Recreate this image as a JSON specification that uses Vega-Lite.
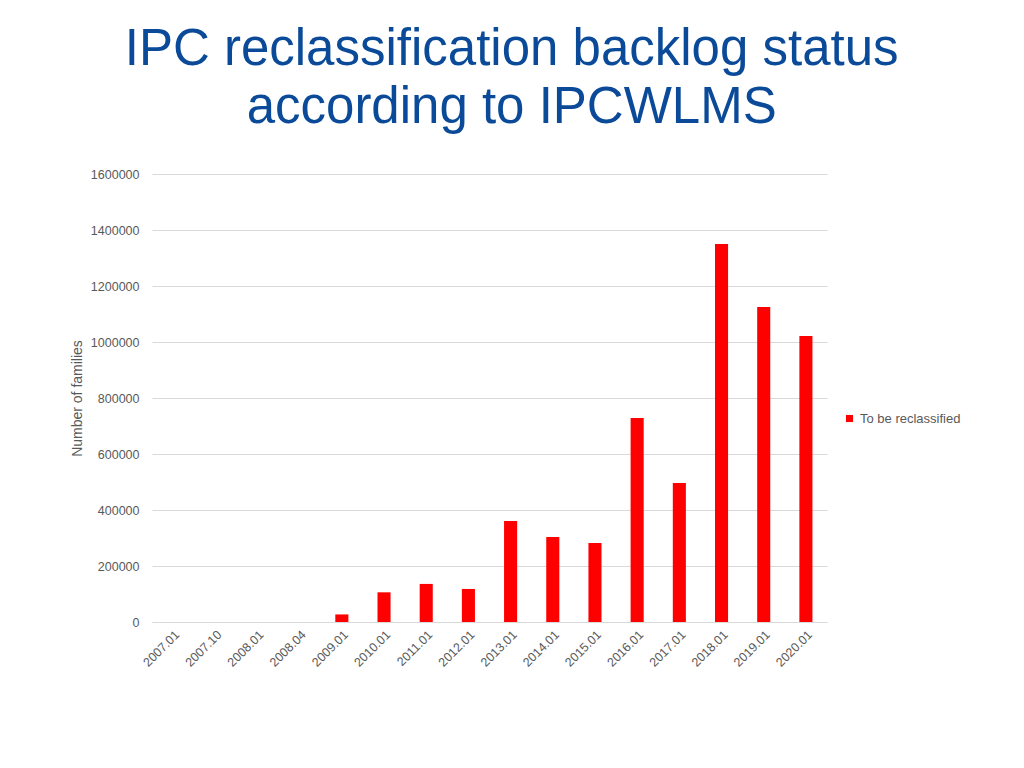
{
  "$schema": "https://vega.github.io/schema/vega-lite/v6.json",
  "width": 675,
  "height": 448,
  "padding": {"left": 70, "top": 24, "right": 10, "bottom": 10},
  "background": "white",
  "title": {
    "text": ["IPC reclassification backlog status", "according to IPCWLMS"],
    "font": "Liberation Sans",
    "fontSize": 51,
    "fontWeight": "normal",
    "color": "#0a4a98",
    "lineHeight": 58,
    "anchor": "middle",
    "frame": "bounds",
    "offset": 34,
    "dx": -4
  },
  "data": {
    "values": [
      {"period": "2007.01", "series": "To be reclassified", "families": 0},
      {"period": "2007.10", "series": "To be reclassified", "families": 0},
      {"period": "2008.01", "series": "To be reclassified", "families": 0},
      {"period": "2008.04", "series": "To be reclassified", "families": 0},
      {"period": "2009.01", "series": "To be reclassified", "families": 27000},
      {"period": "2010.01", "series": "To be reclassified", "families": 106000},
      {"period": "2011.01", "series": "To be reclassified", "families": 136000},
      {"period": "2012.01", "series": "To be reclassified", "families": 118000},
      {"period": "2013.01", "series": "To be reclassified", "families": 361000},
      {"period": "2014.01", "series": "To be reclassified", "families": 304000},
      {"period": "2015.01", "series": "To be reclassified", "families": 282000},
      {"period": "2016.01", "series": "To be reclassified", "families": 729000},
      {"period": "2017.01", "series": "To be reclassified", "families": 496000},
      {"period": "2018.01", "series": "To be reclassified", "families": 1350000},
      {"period": "2019.01", "series": "To be reclassified", "families": 1125000},
      {"period": "2020.01", "series": "To be reclassified", "families": 1021000}
    ]
  },
  "mark": {"type": "bar"},
  "encoding": {
    "x": {
      "field": "period",
      "type": "ordinal",
      "sort": null,
      "scale": {"paddingInner": 0.69, "paddingOuter": 0.345},
      "axis": {
        "title": null,
        "labelAngle": -45,
        "labelFont": "Liberation Sans",
        "labelFontSize": 12.5,
        "labelColor": "#595959",
        "labelPadding": 6,
        "ticks": false,
        "domainColor": "#d9d9d9"
      }
    },
    "y": {
      "field": "families",
      "type": "quantitative",
      "scale": {"domain": [0, 1600000]},
      "axis": {
        "title": "Number of families",
        "titleFont": "Liberation Sans",
        "titleFontSize": 14,
        "titleFontWeight": "normal",
        "titleColor": "#595959",
        "titlePadding": 6,
        "labelFont": "Liberation Sans",
        "labelFontSize": 12.5,
        "labelColor": "#595959",
        "labelPadding": 13,
        "format": "d",
        "values": [0, 200000, 400000, 600000, 800000, 1000000, 1200000, 1400000, 1600000],
        "ticks": false,
        "domain": false,
        "gridColor": "#d9d9d9"
      }
    },
    "color": {
      "field": "series",
      "type": "nominal",
      "scale": {"range": ["#ff0000"]},
      "legend": {
        "title": null,
        "orient": "none",
        "legendX": 691,
        "legendY": 238,
        "symbolType": "square",
        "symbolSize": 50,
        "labelFont": "Liberation Sans",
        "labelFontSize": 13,
        "labelColor": "#595959",
        "labelOffset": 4,
        "padding": 0
      }
    }
  },
  "config": {"view": {"stroke": null}}
}
